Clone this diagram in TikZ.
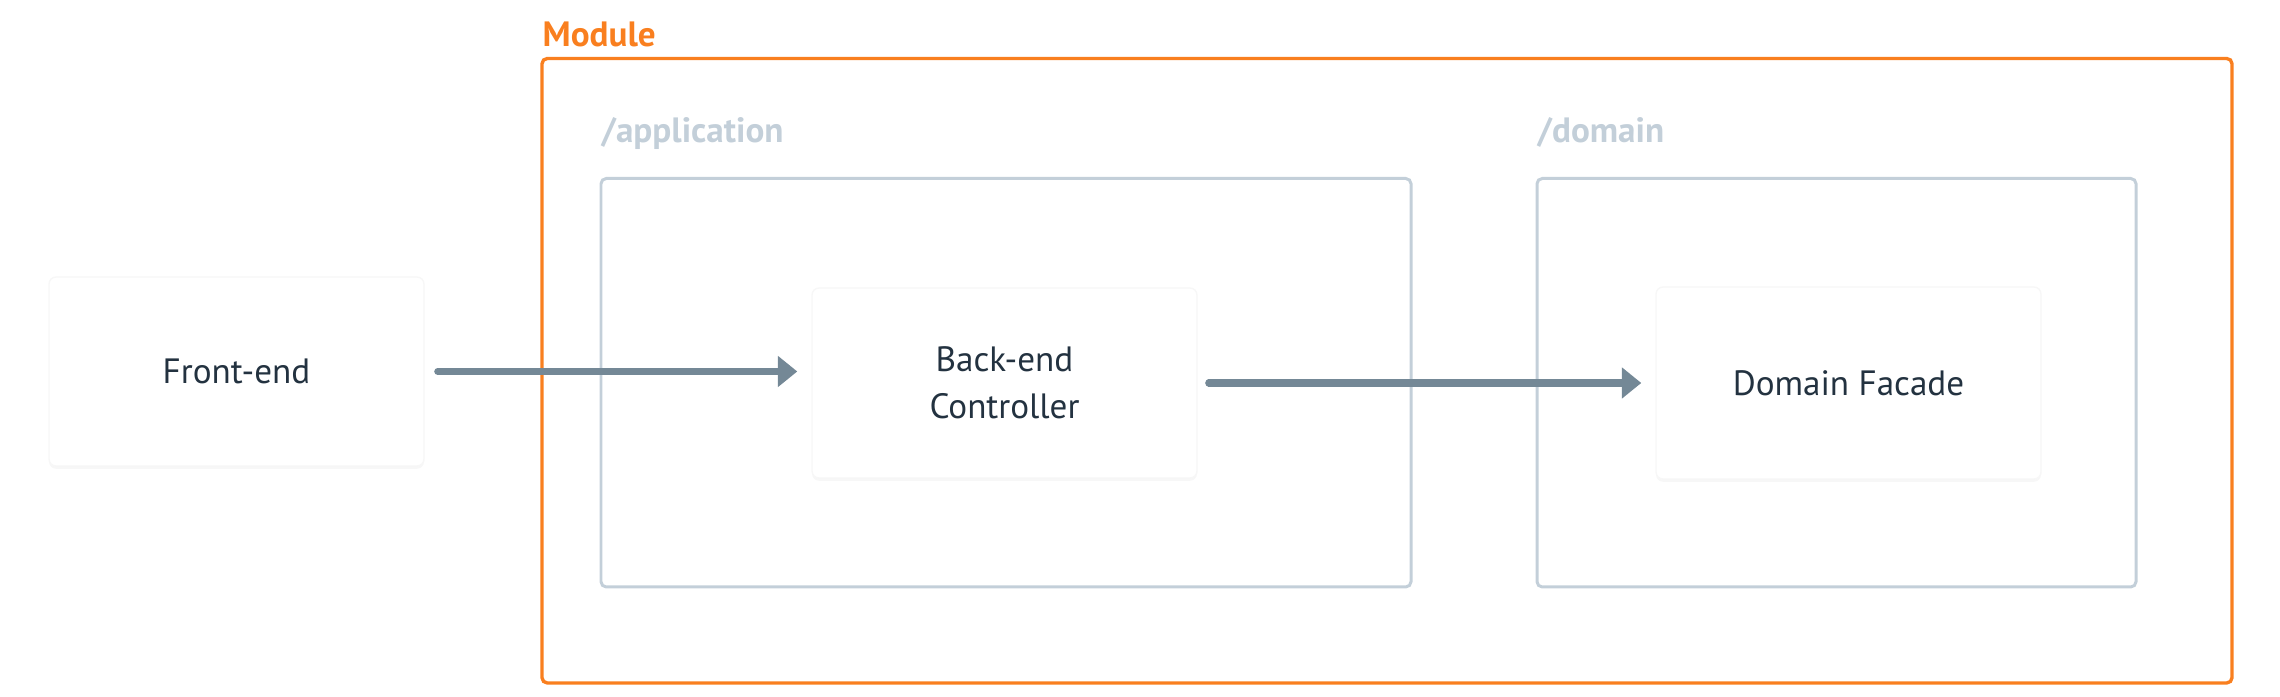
\documentclass[tikz,border=0pt]{standalone}
\usepackage{fontspec}
\setmainfont{PT Sans}
\usepackage{tikz}
\usetikzlibrary{arrows.meta, positioning, shadows}

\definecolor{modorange}{HTML}{F97F1F}
\definecolor{pkggray}{HTML}{C3CFD9}
\definecolor{arrowgray}{HTML}{748896}
\definecolor{textdark}{HTML}{233240}

\tikzset{
    modbox/.style={draw=modorange, line width=0.95pt, rounded corners=1.5pt, inner sep=0pt},
    pkgbox/.style={draw=pkggray, line width=0.85pt, rounded corners=1.5pt, inner sep=0pt},
    compbox/.style={fill=white, draw=black!3, rounded corners=2pt, inner sep=0pt,
        align=center, text=textdark, font=\fontsize{10}{13.4}\selectfont,
        drop shadow={shadow xshift=0pt, shadow yshift=-0.8pt, opacity=0.03, fill=black}},
    pkglabel/.style={anchor=base west, inner sep=0pt, text=pkggray, font=\bfseries\fontsize{10}{12}\selectfont},
    flow/.style={-{Triangle[length=5.5pt, width=8.5pt]}, line width=2pt, draw=arrowgray, line cap=round},
}

\begin{document}
\begin{tikzpicture}
    \useasboundingbox (0,0) rectangle (22.8,-6.97);
    % module frame and its packages
    \node[modbox, minimum width=16.90cm, minimum height=6.245cm] (module) at (13.87,-3.7075) {};
    \node[pkglabel, text=modorange] (modlabel) at (5.42,-0.47) {Module};
    \node[pkgbox, minimum width=8.10cm, minimum height=4.085cm] (app) at (10.06,-3.8275) {};
    \node[pkglabel] (applabel) at (6.01,-1.43) {/application};
    \node[pkgbox, minimum width=5.99cm, minimum height=4.085cm] (dom) at (18.365,-3.8275) {};
    \node[pkglabel] (domlabel) at (15.37,-1.43) {/domain};
    % components
    \node[compbox, minimum width=3.75cm, minimum height=1.89cm] (fe) at (2.365,-3.715) {Front-end};
    \node[compbox, minimum width=3.85cm, minimum height=1.90cm] (be) at (10.045,-3.83) {Back-end\\Controller};
    \node[compbox, minimum width=3.85cm, minimum height=1.92cm] (df) at (18.485,-3.83) {Domain Facade};
    % calls
    \draw[flow, shorten <=0.13cm, shorten >=0.14cm] (fe.east) -- (fe.east -| be.west);
    \draw[flow, shorten <=0.11cm, shorten >=0.14cm] (be.east) -- (be.east -| df.west);
\end{tikzpicture}
\end{document}
